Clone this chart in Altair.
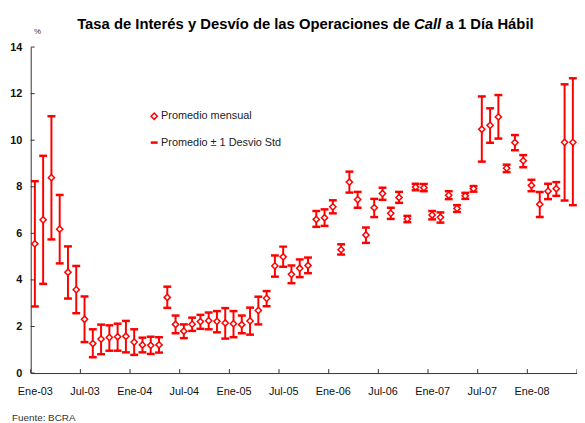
import altair as alt
import pandas as pd

# ---- data -------------------------------------------------------------
years = ["03", "04", "05", "06", "07", "08"]
month_abbr = ["Ene", "Feb", "Mar", "Abr", "May", "Jun",
              "Jul", "Ago", "Sep", "Oct", "Nov", "Dic"]
months = [f"{m}-{y}" for y in years for m in month_abbr][:66]

mean = [5.55, 6.58, 8.39, 6.18, 4.33, 3.58, 2.31, 1.27, 1.46, 1.53,
        1.56, 1.58, 1.33, 1.21, 1.19, 1.21, 3.25, 2.09, 1.80, 2.10,
        2.21, 2.25, 2.22, 2.15, 2.12, 2.08, 2.24, 2.69, 3.21, 4.60,
        4.99, 4.24, 4.50, 4.62, 6.60, 6.67, 7.14, 5.30, 8.20, 7.45,
        5.93, 7.10, 7.71, 6.86, 7.54, 6.62, 7.99, 7.96, 6.79, 6.69,
        7.64, 7.07, 7.61, 7.92, 10.47, 10.64, 11.00, 8.80, 9.90, 9.12,
        8.06, 7.25, 7.81, 7.92, 9.91, 9.91]

upper = [8.24, 9.33, 11.03, 7.65, 5.44, 4.60, 3.29, 1.88, 2.08, 2.05,
         2.12, 2.24, 1.88, 1.52, 1.56, 1.54, 3.71, 2.47, 2.09, 2.38,
         2.50, 2.60, 2.66, 2.79, 2.66, 2.47, 2.81, 3.28, 3.52, 5.05,
         5.43, 4.62, 4.88, 4.96, 6.96, 7.03, 7.42, 5.53, 8.65, 7.78,
         6.25, 7.48, 7.96, 7.10, 7.78, 6.75, 8.13, 8.12, 6.96, 6.90,
         7.81, 7.21, 7.74, 8.03, 11.88, 11.37, 11.94, 8.95, 10.22, 9.36,
         8.30, 7.78, 8.13, 8.20, 12.40, 12.66]

lower = [2.86, 3.83, 5.74, 4.71, 3.20, 2.57, 1.33, 0.68, 0.81, 0.96,
         0.96, 0.89, 0.78, 0.89, 0.82, 0.88, 2.80, 1.71, 1.50, 1.81,
         1.90, 1.88, 1.75, 1.48, 1.54, 1.71, 1.65, 2.09, 2.87, 4.14,
         4.57, 3.86, 4.12, 4.29, 6.28, 6.32, 6.86, 5.09, 7.75, 7.10,
         5.59, 6.70, 7.44, 6.62, 7.31, 6.48, 7.85, 7.81, 6.60, 6.46,
         7.47, 6.92, 7.48, 7.79, 9.08, 9.89, 10.07, 8.63, 9.57, 8.84,
         7.81, 6.70, 7.47, 7.61, 7.41, 7.21]

tick_labels = ["Ene-03", "Jul-03", "Ene-04", "Jul-04", "Ene-05", "Jul-05",
               "Ene-06", "Jul-06", "Ene-07", "Jul-07", "Ene-08"]
y_ticks = [0, 2, 4, 6, 8, 10, 12, 14]

# ---- build ------------------------------------------------------------
df = pd.DataFrame({"i": list(range(len(months))), "mes": months,
                   "prom": mean, "sup": upper, "inf": lower})
boundaries = [-0.5 + 6 * k for k in range(12)]
df_xt = pd.DataFrame({"b": boundaries})
df_yt = pd.DataFrame({"v": y_ticks})
one = pd.DataFrame({"a": [0]})

W, H = 553, 330
RED = "#FF0000"
AX = "#333333"
FONT = "Liberation Sans"

xs = alt.Scale(domain=[-0.5, len(months) - 0.5], nice=False, zero=False)
ys = alt.Scale(domain=[0, 14], nice=False, zero=True)

label_js = "[" + ",".join(f"'{t}'" for t in tick_labels) + "]"

x_axis = alt.Axis(values=boundaries[:len(tick_labels)],
                  labelExpr=f"{label_js}[round((datum.value+0.5)/6)]",
                  ticks=False, tickSize=0, grid=False, title=None,
                  domainColor=AX, domainWidth=1, labelOffset=4.2,
                  labelPadding=13, labelFont=FONT, labelFontSize=11,
                  labelColor="#111111", labelAngle=0, labelOverlap=False,
                  labelFlush=False, labelBound=False)
y_axis = alt.Axis(values=y_ticks, ticks=False, tickSize=0, grid=False,
                  title=None, domainColor=AX, domainWidth=1,
                  labelPadding=9, labelFont=FONT, labelFontSize=11,
                  labelFontWeight="bold", labelColor="#111111",
                  labelOverlap=False)


def X(field):
    return alt.X(field, scale=xs, axis=x_axis)


def Y(field):
    return alt.Y(field, scale=ys, axis=y_axis)


base = alt.Chart(df)

bars = base.mark_rule(color=RED, strokeWidth=2).encode(
    x=X("i:Q"), y=Y("inf:Q"), y2="sup:Q",
)
cap_top = base.mark_tick(color=RED, orient="horizontal", size=8,
                         thickness=2.5, opacity=1).encode(
    x=X("i:Q"), y=Y("sup:Q"),
)
cap_bot = base.mark_tick(color=RED, orient="horizontal", size=8,
                         thickness=2.5, opacity=1).encode(
    x=X("i:Q"), y=Y("inf:Q"),
)
points = base.mark_point(shape="diamond", filled=True, fill="white",
                         stroke=RED, strokeWidth=1.5, size=40,
                         opacity=1).encode(
    x=X("i:Q"), y=Y("prom:Q"),
    tooltip=["mes:N", "prom:Q", "inf:Q", "sup:Q"],
)

# inward ticks
xt = alt.Chart(df_xt).mark_rule(color=AX, strokeWidth=1).encode(
    x=X("b:Q"), y=alt.value(H), y2=alt.value(H - 4),
)
yt = alt.Chart(df_yt).mark_rule(color=AX, strokeWidth=1).encode(
    y=Y("v:Q"), x=alt.value(0), x2=alt.value(4),
)

# title (with italic "Call")
t0 = 47
title1 = alt.Chart(one).mark_text(font=FONT, fontSize=15, fontWeight="bold",
                                  align="left", baseline="alphabetic",
                                  color="#000000").encode(
    x=alt.value(t0), y=alt.value(-18),
    text=alt.value("Tasa de Interés y Desvío de las Operaciones de"))
title2 = alt.Chart(one).mark_text(font=FONT, fontSize=15, fontWeight="bold",
                                  fontStyle="italic", align="left",
                                  baseline="alphabetic",
                                  color="#000000").encode(
    x=alt.value(t0 + 341), y=alt.value(-18), text=alt.value("Call"))
title3 = alt.Chart(one).mark_text(font=FONT, fontSize=15, fontWeight="bold",
                                  align="left", baseline="alphabetic",
                                  color="#000000").encode(
    x=alt.value(t0 + 373), y=alt.value(-18),
    text=alt.value("a 1 Día Hábil"))

pct = alt.Chart(one).mark_text(font=FONT, fontSize=8, align="center",
                               baseline="middle", color="#333333").encode(
    x=alt.value(7), y=alt.value(-15), text=alt.value("%"))

fuente = alt.Chart(one).mark_text(font=FONT, fontSize=10, align="left",
                                  baseline="middle", color="#333333").encode(
    x=alt.value(-19), y=alt.value(376), text=alt.value("Fuente: BCRA"))

# legend
leg_pt = alt.Chart(one).mark_point(shape="diamond", filled=True, fill="white",
                                   stroke=RED, strokeWidth=1.5, size=40,
                                   opacity=1).encode(
    x=alt.value(125), y=alt.value(70))
leg_dash = alt.Chart(one).mark_rule(color=RED, strokeWidth=2.5).encode(
    x=alt.value(121.5), x2=alt.value(128.5), y=alt.value(96.7))
leg_t1 = alt.Chart(one).mark_text(font=FONT, fontSize=11, align="left",
                                  baseline="middle", color="#222222").encode(
    x=alt.value(132), y=alt.value(70), text=alt.value("Promedio mensual"))
leg_t2 = alt.Chart(one).mark_text(font=FONT, fontSize=11, align="left",
                                  baseline="middle", color="#222222").encode(
    x=alt.value(132), y=alt.value(96.7),
    text=alt.value("Promedio ± 1 Desvio Std"))

chart = alt.layer(
    bars, cap_top, cap_bot, points, xt, yt,
    title1, title2, title3, pct, fuente,
    leg_pt, leg_dash, leg_t1, leg_t2,
).properties(
    width=W, height=H,
    padding={"left": 23, "top": 37, "right": 0, "bottom": 48},
    autosize=alt.AutoSizeParams(type="none"),
).configure_view(stroke=None)

chart.save("out.html", embed_options={"renderer": "svg", "actions": False})
